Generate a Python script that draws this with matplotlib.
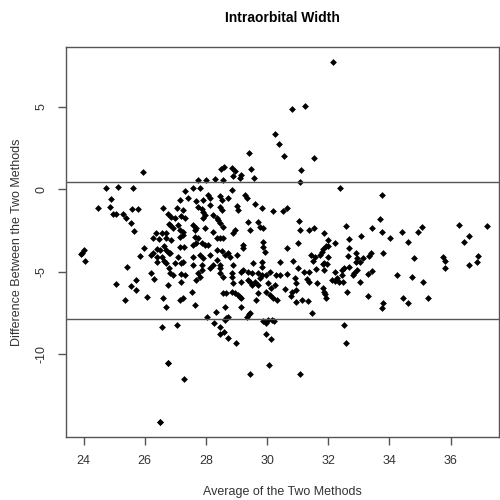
import matplotlib
matplotlib.use("Agg")
import matplotlib.pyplot as plt
import numpy as np

# Average of the two methods (x) and their difference (y)
avg_vals = [
    # low averages
    25.95, 24.73, 25.11, 25.63, 24.91, 24.48, 24.86, 24.97, 25.05, 25.30,
    25.38, 25.57, 25.77, 25.54, 25.66, 26.60, 26.75, 26.78, 26.36, 26.55,
    26.71, 26.28, 26.47, 26.68, 26.63, 26.39, 26.50, 26.71, 26.26, 26.22,
    26.39, 26.55, 26.80, 26.41, 26.63, 26.71, 26.80, 25.98, 25.86, 24.02,
    23.95, 23.91, 24.04, 25.41, 26.22, 26.31, 25.06, 25.55, 25.73, 25.70,
    25.36, 26.06, 26.60, 26.71, 26.77, 26.58, 26.75, 26.50,
    # central cluster
    27.75, 28.00, 28.29, 28.56, 28.87, 29.13, 29.16, 29.57, 27.31, 27.58,
    27.80, 28.84, 27.15, 27.42, 27.69, 27.91, 28.07, 28.13, 28.46, 28.51,
    28.73, 29.27, 29.33, 29.60, 29.82, 30.20, 27.04, 27.26, 27.75, 27.86,
    27.91, 28.13, 28.46, 28.51, 29.00, 29.05, 26.87, 26.98, 27.20, 27.31,
    27.96, 27.91, 28.24, 28.35, 28.40, 28.46, 28.56, 29.38, 29.71, 29.76,
    29.87, 29.44, 28.95, 28.89, 26.82, 26.93, 27.09, 27.15, 27.26, 27.58,
    27.64, 27.69, 27.96, 28.24, 27.15, 27.26, 26.87, 27.64, 27.75, 28.35,
    28.46, 28.56, 27.15, 27.28, 27.58, 27.69, 27.86, 27.96, 28.07, 28.35,
    28.51, 28.62, 28.73, 28.78, 29.22, 29.22, 29.87, 29.87, 29.93, 26.82,
    27.09, 27.58, 27.80, 27.91, 28.13, 28.35, 29.00, 26.98, 27.20, 27.26,
    27.58, 27.86, 28.24, 28.46, 28.46, 28.89, 29.55, 29.82, 29.82, 26.82,
    26.93, 27.20, 27.31, 27.75, 27.86, 28.13, 28.46, 28.56, 28.84, 28.84,
    29.16, 29.22, 29.38, 29.49, 29.71, 29.76, 29.98, 30.09, 30.29, 27.20,
    27.69, 27.80, 28.89, 29.16, 29.38, 29.44, 29.49, 29.60, 29.71, 29.82,
    30.04, 30.14, 30.25, 27.53, 28.56, 28.67, 28.84, 28.95, 29.05, 29.11,
    29.16, 29.71, 29.98, 30.09, 30.20, 30.31, 27.15, 27.26, 27.64, 28.62,
    29.65, 29.16,
    # upper points
    30.26, 30.39, 29.41, 28.48, 28.60, 28.84, 28.95, 29.46, 32.16, 30.82,
    31.24, 30.55, 31.52, 31.10,
    # right-hand group
    31.07, 32.38, 33.74, 30.51, 30.64, 31.05, 31.09, 31.38, 31.53, 32.58,
    33.69, 33.42, 33.74, 31.87, 32.00, 31.00, 30.64, 32.68, 33.06, 32.00,
    31.92, 31.84, 31.78, 31.73, 32.22, 32.68, 32.65, 32.89, 32.95, 33.12,
    33.04, 32.90, 33.34, 33.38, 33.80, 31.45, 31.56, 32.00, 31.51, 30.85,
    30.42, 31.87, 31.84, 31.95, 31.02, 31.20, 31.38, 31.60, 31.87, 32.22,
    32.44, 32.51, 32.69, 32.80, 32.84, 32.95, 33.42, 33.31, 30.42, 30.64,
    30.91, 31.29, 31.38, 31.62, 32.11, 32.22, 32.36, 32.27, 32.44, 32.49,
    33.03, 30.94, 30.58, 30.83, 30.94, 31.84, 31.87, 31.89, 31.92, 32.60,
    33.31, 30.77, 30.94, 31.13, 31.35, 33.78, 33.74,
    # far right
    34.02, 34.40, 34.59, 34.92, 35.05, 36.28, 37.18, 36.60, 36.44, 34.81,
    35.76, 35.81, 35.81, 36.90, 36.85, 36.60, 34.26, 34.72, 35.08, 34.45,
    34.62, 35.27,
    # below the lower limit
    27.06, 27.28, 28.02, 28.33, 28.27, 28.46, 28.62, 28.67, 28.73, 28.46,
    28.60, 28.73, 28.98, 29.35, 29.41, 29.44, 29.44, 29.85, 29.98, 30.02,
    30.15, 30.22, 29.95, 30.12, 30.05, 31.46, 32.51, 32.57, 31.07, 26.75,
    26.50,
]
diff_vals = [
    # low averages
    1.05, 0.04, 0.10, 0.04, -0.63, -1.13, -1.07, -1.54, -1.50, -1.54,
    -1.74, -1.23, -1.23, -2.04, -2.53, -1.17, -1.54, -2.14, -2.69, -2.69,
    -2.69, -2.99, -3.03, -2.99, -3.43, -3.64, -3.70, -3.70, -3.86, -4.00,
    -4.10, -4.10, -3.90, -4.45, -4.36, -4.51, -4.81, -3.56, -4.06, -3.70,
    -3.86, -3.96, -4.36, -4.71, -5.07, -5.47, -5.76, -5.86, -5.52, -6.12,
    -6.73, -6.53, -6.59, -7.13, -5.82, -8.38, -10.56, -14.14,
    # central cluster
    0.55, 0.55, 0.61, 0.55, 0.79, 0.69, 0.85, 0.65, -0.12, 0.04,
    0.08, -0.06, -0.67, -0.56, -0.73, -0.67, -0.36, -0.52, -0.40, -0.67,
    -0.52, -0.36, -0.56, -0.93, -1.17, -1.33, -1.17, -1.27, -1.07, -1.23,
    -1.41, -0.97, -1.07, -1.27, -1.01, -1.27, -1.68, -1.78, -1.61, -1.78,
    -1.57, -1.78, -1.57, -1.74, -1.88, -2.08, -2.28, -1.98, -1.98, -2.28,
    -2.38, -2.48, -2.48, -2.69, -2.18, -2.38, -2.18, -2.48, -2.58, -2.18,
    -2.48, -2.38, -2.38, -2.58, -2.89, -2.79, -3.09, -2.89, -2.95, -2.99,
    -2.99, -2.99, -3.49, -3.49, -3.39, -3.29, -3.29, -3.39, -3.39, -3.70,
    -3.76, -4.00, -3.90, -4.10, -3.39, -3.55, -3.19, -3.49, -3.80, -3.90,
    -4.10, -4.10, -4.00, -4.20, -4.00, -4.30, -4.00, -4.50, -4.50, -4.40,
    -4.60, -4.60, -4.60, -4.60, -4.81, -4.60, -4.50, -4.40, -4.70, -5.11,
    -5.21, -5.17, -5.21, -5.11, -4.91, -4.81, -5.11, -5.31, -5.11, -5.31,
    -5.01, -4.91, -5.01, -5.11, -5.11, -5.41, -5.21, -5.01, -5.21, -5.62,
    -5.51, -5.31, -5.72, -5.62, -5.51, -5.62, -5.82, -5.62, -5.82, -5.21,
    -5.72, -6.02, -5.82, -6.22, -6.32, -6.32, -6.22, -6.32, -6.42, -6.52,
    -6.62, -6.32, -6.22, -6.42, -6.62, -6.73, -6.73, -6.62, -7.03, -7.13,
    -6.73, -7.13,
    # upper points
    3.32, 2.71, 2.20, 1.20, 1.35, 1.29, 1.11, 1.21, 7.68, 4.87,
    5.03, 2.00, 1.86, 1.15,
    # right-hand group
    0.44, 0.04, -0.36, -1.33, -1.13, -1.94, -2.49, -2.49, -2.38, -2.22,
    -1.82, -2.38, -2.63, -2.65, -3.09, -3.29, -3.60, -3.03, -2.83, -3.44,
    -3.43, -3.64, -3.84, -4.00, -3.29, -3.60, -4.04, -3.90, -4.16, -4.20,
    -4.40, -4.45, -4.04, -3.90, -3.90, -4.00, -4.10, -4.10, -4.36, -4.36,
    -4.45, -4.50, -4.57, -4.57, -4.81, -5.01, -5.05, -4.87, -4.91, -5.05,
    -4.91, -4.81, -4.71, -5.21, -5.11, -4.91, -4.95, -5.17, -5.21, -5.17,
    -5.37, -5.46, -5.62, -5.72, -5.52, -5.58, -5.62, -5.37, -5.21, -5.62,
    -5.66, -5.72, -6.06, -6.22, -6.12, -6.02, -6.22, -6.38, -6.59, -6.26,
    -6.46, -6.46, -6.83, -6.73, -6.79, -6.93, -7.23,
    # far right
    -2.99, -2.63, -3.23, -2.63, -2.28, -2.18, -2.22, -2.85, -3.19, -4.20,
    -4.10, -4.36, -4.81, -4.04, -4.45, -4.61, -5.21, -5.31, -5.66, -6.59,
    -6.93, -6.59,
    # below the lower limit
    -8.24, -11.53, -7.74, -7.44, -8.14, -8.34, -7.94, -7.84, -7.77, -8.79,
    -8.65, -9.05, -9.35, -7.74, -7.58, -7.50, -11.21, -8.00, -8.10, -7.94,
    -7.94, -8.00, -8.79, -9.09, -10.67, -7.50, -8.24, -9.35, -11.21, -10.56,
    -14.14,
]

upper_limit = 0.41
lower_limit = -7.9

x_ticks = [24, 26, 28, 30, 32, 34, 36]
y_ticks = [-10, -5, 0, 5]

plt.rcParams['font.family'] = ['Liberation Sans', 'DejaVu Sans']

fig = plt.figure(figsize=(5, 5), dpi=100)
ax = fig.add_axes([0.131, 0.1266, 0.867, 0.7788])

ax.scatter(avg_vals, diff_vals, marker='D', s=12, color='black', linewidths=0)
ax.axhline(upper_limit, color='#555555', lw=1)
ax.axhline(lower_limit, color='#555555', lw=1)

ax.set_xlim(23.41, 37.58)
ax.set_ylim(-15.01, 8.59)
ax.set_xticks(x_ticks)
ax.set_yticks(y_ticks)
ax.set_yticklabels([str(v) for v in y_ticks], rotation=90, va='center')
ax.tick_params(direction='out', length=6, width=1, color='#555555',
               labelsize=9, labelcolor='#333333', pad=7)
for sp in ax.spines.values():
    sp.set_color('#555555')
    sp.set_linewidth(1)

ax.set_title('Intraorbital Width', fontsize=10, fontweight='bold', pad=18)
ax.set_xlabel('Average of the Two Methods', fontsize=9, color='#333333', labelpad=14)
ax.set_ylabel('Difference Between the Two Methods', fontsize=9, color='#333333', labelpad=9)

fig.savefig('out.png', dpi=100)
